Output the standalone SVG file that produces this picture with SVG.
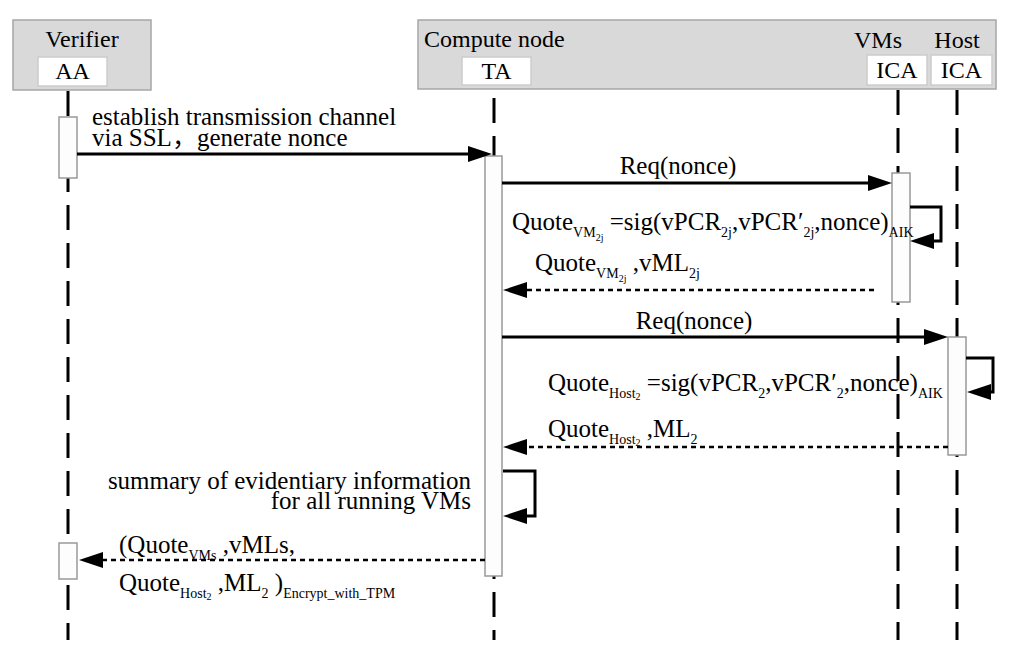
<svg xmlns="http://www.w3.org/2000/svg" width="1011" height="668" viewBox="0 0 1011 668">
<defs>
<marker id="ah" markerUnits="userSpaceOnUse" markerWidth="24" markerHeight="16" refX="16" refY="8" orient="auto">
<path d="M0,0 L24,8 L0,16 z" fill="#000" stroke="none"/>
</marker>
</defs>
<style>
text{font-family:"Liberation Serif","Times New Roman",serif;fill:#000}
.h{font-size:24px}
.t{font-size:25px}
.sb{font-size:14px}
.ssb{font-size:10px}
.grp{fill:#d9d9d9;stroke:#a6a6a6;stroke-width:1.5}
.wb{fill:#fff;stroke:#cccccc;stroke-width:1.5}
.life{stroke:#000;stroke-width:3;stroke-dasharray:25 13;fill:none}
.act{fill:#fdfdfd;stroke:#999;stroke-width:1.5}
.msg{stroke:#000;stroke-width:3;fill:none;marker-end:url(#ah)}
.ret{stroke:#000;stroke-width:2.5;stroke-dasharray:5 4;fill:none;marker-end:url(#ah)}
</style>
<g id="verifier">
<rect class="grp" x="13" y="20" width="138" height="70"/>
<text class="h" x="82" y="47" text-anchor="middle">Verifier</text>
<rect class="wb" x="38" y="57" width="69" height="29"/>
<text class="h" x="72.5" y="79" text-anchor="middle">AA</text>
</g>
<g id="compute-node">
<rect class="grp" x="418" y="20" width="578" height="69"/>
<text class="h" x="424" y="47">Compute node</text>
<rect class="wb" x="462" y="57" width="69" height="28"/>
<text class="h" x="496.5" y="79" text-anchor="middle">TA</text>
<text class="h" x="878" y="48" text-anchor="middle">VMs</text>
<text class="h" x="957" y="48" text-anchor="middle">Host</text>
</g>
<g id="vms-ica">
<rect class="wb" x="867" y="55" width="60" height="30"/>
<text class="h" x="897" y="78" text-anchor="middle">ICA</text>
</g>
<g id="host-ica">
<rect class="wb" x="931" y="55" width="61" height="30"/>
<text class="h" x="961.5" y="78" text-anchor="middle">ICA</text>
</g>
<g id="lifelines">
<line class="life" x1="68" y1="91" x2="68" y2="640"/>
<line class="life" x1="494" y1="98" x2="494" y2="640"/>
<line class="life" x1="898" y1="90" x2="898" y2="640"/>
<line class="life" x1="957" y1="90" x2="957" y2="640"/>
</g>
<g id="activations">
<rect class="act" x="59" y="117" width="18" height="61"/>
<rect class="act" x="485" y="156" width="17" height="420"/>
<rect class="act" x="892" y="173" width="18" height="129"/>
<rect class="act" x="948" y="337" width="18" height="118"/>
<rect class="act" x="59" y="543" width="18" height="36"/>
</g>
<g id="connectors">
<line class="msg" x1="77" y1="154" x2="484" y2="154"/>
<line class="msg" x1="502" y1="183" x2="884" y2="183"/>
<polyline class="msg" points="910,207 941,207 941,241 918,241"/>
<line class="ret" x1="874" y1="290" x2="511" y2="290"/>
<line class="msg" x1="502" y1="337" x2="940" y2="337"/>
<polyline class="msg" points="966,358 993,358 993,392 975,392"/>
<line class="ret" x1="948" y1="447" x2="511" y2="447"/>
<polyline class="msg" points="503,471 535,471 535,516 511,516"/>
<line class="ret" x1="485" y1="560" x2="87" y2="560"/>
</g>
<g id="labels">
<text class="t" x="92" y="125">establish transmission channel</text>
<text class="t" x="92" y="146">via SSL<tspan font-family="Noto Sans CJK SC, sans-serif">，</tspan>generate nonce</text>
<text class="t" x="678" y="174" text-anchor="middle">Req(nonce)</text>
<text class="t" x="512" y="230">Quote<tspan class="sb" dy="7">VM</tspan><tspan class="ssb" dy="4">2j</tspan><tspan dy="-11"> =sig(vPCR</tspan><tspan class="sb" dy="7">2j</tspan><tspan dy="-7">,vPCR′</tspan><tspan class="sb" dy="7">2j</tspan><tspan dy="-7">,nonce)</tspan><tspan class="sb" dy="7">AIK</tspan></text>
<text class="t" x="535" y="271">Quote<tspan class="sb" dy="7">VM</tspan><tspan class="ssb" dy="4">2j</tspan><tspan dy="-11"> ,vML</tspan><tspan class="sb" dy="7">2j</tspan></text>
<text class="t" x="694" y="329" text-anchor="middle">Req(nonce)</text>
<text class="t" x="548" y="391">Quote<tspan class="sb" dy="7">Host</tspan><tspan class="ssb" dy="2">2</tspan><tspan dy="-9"> =sig(vPCR</tspan><tspan class="sb" dy="7">2</tspan><tspan dy="-7">,vPCR′</tspan><tspan class="sb" dy="7">2</tspan><tspan dy="-7">,nonce)</tspan><tspan class="sb" dy="7">AIK</tspan></text>
<text class="t" x="548" y="437">Quote<tspan class="sb" dy="7">Host</tspan><tspan class="ssb" dy="2">2</tspan><tspan dy="-9"> ,ML</tspan><tspan class="sb" dy="7">2</tspan></text>
<text class="t" x="471" y="489" text-anchor="end">summary of evidentiary information</text>
<text class="t" x="471" y="509" text-anchor="end">for all running VMs</text>
<text class="t" x="119" y="553">(Quote<tspan class="sb" dy="7">VMs</tspan><tspan dy="-7"> ,vMLs,</tspan></text>
<text class="t" x="119" y="591">Quote<tspan class="sb" dy="7">Host</tspan><tspan class="ssb" dy="2">2</tspan><tspan dy="-9"> ,ML</tspan><tspan class="sb" dy="7">2</tspan><tspan dy="-7"> )</tspan><tspan class="sb" dy="7">Encrypt_with_TPM</tspan></text>
</g>
</svg>
